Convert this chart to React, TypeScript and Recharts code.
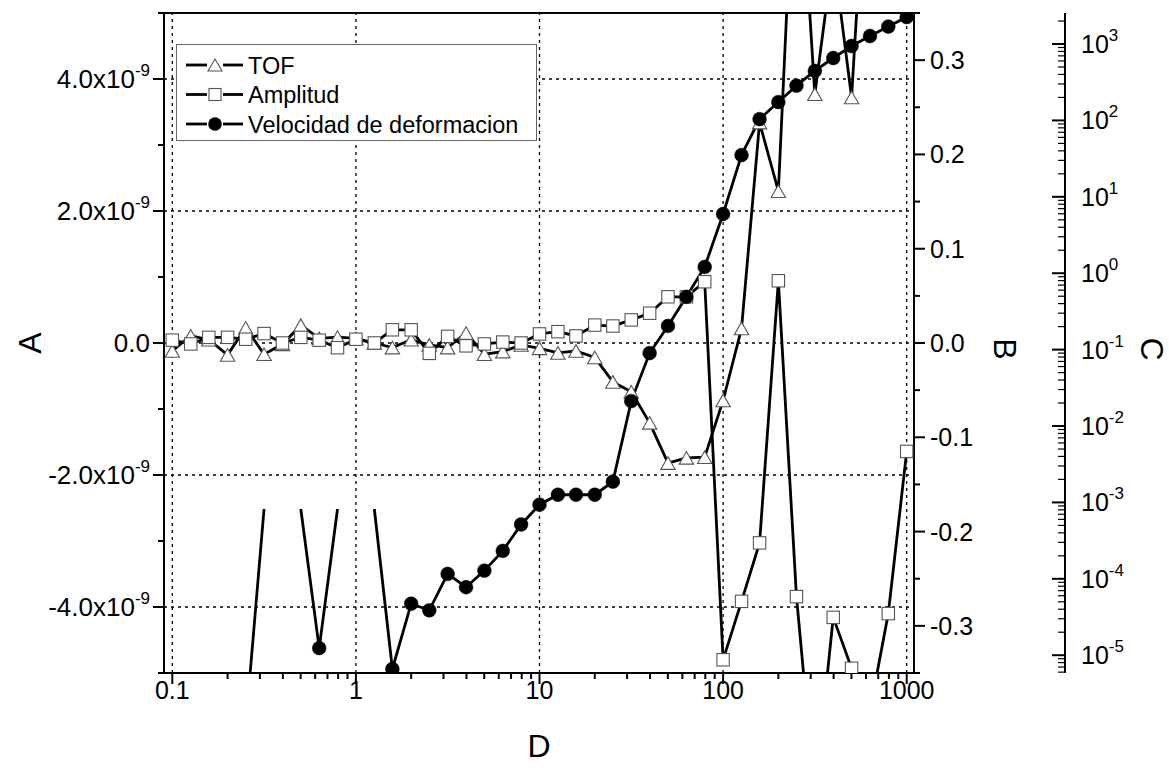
import React from 'react';
import { ComposedChart, Line, XAxis, YAxis, ReferenceLine, Legend } from 'recharts';

const FONT = '"Liberation Sans", Arial, Helvetica, sans-serif';

// ---------------- data ----------------
const dValues = [
  0.1, 0.126, 0.158, 0.2, 0.251, 0.316, 0.398, 0.501, 0.631, 0.794,
  1, 1.26, 1.58, 2, 2.51, 3.16, 3.98, 5.01, 6.31, 7.94,
  10, 12.6, 15.8, 20, 25.1, 31.6, 39.8, 50.1, 63.1, 79.4,
  100, 126, 158, 200, 251, 316, 398, 501, 631, 794, 1000,
];

const tofValues = [
  -0.12e-9, 0.11e-9, 0.05e-9, -0.18e-9, 0.23e-9, -0.17e-9, -0.02e-9, 0.27e-9, 0.07e-9, 0.09e-9,
  0.07e-9, 0.0, -0.07e-9, 0.05e-9, -0.03e-9, -0.07e-9, 0.15e-9, -0.17e-9, -0.13e-9, -0.03e-9,
  -0.08e-9, -0.15e-9, -0.12e-9, -0.22e-9, -0.59e-9, -0.74e-9, -1.21e-9, -1.82e-9, -1.74e-9, -1.73e-9,
  -0.87e-9, 0.22e-9, 3.34e-9, 2.3e-9, 8.2e-9, 3.77e-9, 5.9e-9, 3.72e-9, 8.4e-9, 8.0e-9, 9.0e-9,
];

const amplitudValues = [
  0.003, -0.001, 0.006, 0.006, 0.004, 0.01, 0.0, 0.006, 0.003, -0.005,
  0.004, 0.0, 0.014, 0.014, -0.011, 0.007, -0.003, -0.001, 0.001, 0.0,
  0.0096, 0.012, 0.0075, 0.019, 0.018, 0.0245, 0.0316, 0.049, 0.049, 0.065,
  -0.336, -0.274, -0.212, 0.066, -0.269, -0.48, -0.291, -0.345, -0.39, -0.287, -0.115,
];

const velocidadValues: (number | null)[] = [
  null, null, null, null, 1.2e-6, 8.2e-4, null, 8.2e-4, 1.24e-5, 8.2e-4,
  null, 8.2e-4, 6.6e-6, 4.72e-5, 3.87e-5, 1.16e-4, 7.76e-5, 1.28e-4, 2.32e-4, 5.14e-4,
  9.33e-4, 1.26e-3, 1.26e-3, 1.26e-3, 1.87e-3, 0.0212, 0.0902, 0.204, 0.491, 1.21,
  5.96, 35.2, 104, 174, 285, 444, 656, 942, 1273, 1694, 2255,
];

// points of the Velocidad curve that the original draws without a symbol
const velocidadNoSymbolAt = [0.316, 0.501, 0.794, 1.26];

// ---------------- axes / ticks ----------------
const xDomain = [0.0901, 1096];
const aDomain = [-5e-9, 5e-9];
const bDomain = [-0.35, 0.35];
const cDomain = [5.85e-6, 2547];

const xDecades = [0.1, 1, 10, 100, 1000];
const xMinorSteps = [2, 3, 4, 5, 6, 7, 8, 9];
const xTickLabels = ['0.1', '1', '10', '100', '1000'];

const aTicks = [-5e-9, -4e-9, -3e-9, -2e-9, -1e-9, 0, 1e-9, 2e-9, 3e-9, 4e-9, 5e-9];
const aLabelTicks = [-4e-9, -2e-9, 0, 2e-9, 4e-9];
const aTickLabels = ['-4.0x10', '-2.0x10', '0.0', '2.0x10', '4.0x10'];
const aTickExp = ['-9', '-9', '', '-9', '-9'];

const bTicks = [-0.35, -0.3, -0.25, -0.2, -0.15, -0.1, -0.05, 0, 0.05, 0.1, 0.15, 0.2, 0.25, 0.3, 0.35];
const bLabelTicks = [-0.3, -0.2, -0.1, 0, 0.1, 0.2, 0.3];
const bTickLabels = ['-0.3', '-0.2', '-0.1', '0.0', '0.1', '0.2', '0.3'];

const cDecades = [1e-6, 1e-5, 1e-4, 1e-3, 1e-2, 1e-1, 1, 10, 100, 1000];
const cLabelExps = [-5, -4, -3, -2, -1, 0, 1, 2, 3];
const cMinorSteps = [1, 2, 3, 4, 5, 6, 7, 8, 9];

const gridX = [0.1, 1, 10, 100, 1000];
const gridA = [-4e-9, -2e-9, 0, 2e-9, 4e-9];

const legendItems = [
  { name: 'TOF', symbol: 'triangle' },
  { name: 'Amplitud', symbol: 'square' },
  { name: 'Velocidad de deformacion', symbol: 'circle' },
];

// ---------------- derived ----------------
const chartData = dValues.map((d, i) => ({
  d,
  tof: tofValues[i],
  amp: amplitudValues[i],
  vel: velocidadValues[i],
}));

const xTicks = xDecades.flatMap((d, i) =>
  i === xDecades.length - 1 ? [d] : [d, ...xMinorSteps.map((m) => +(m * d).toPrecision(3))]
);
const cTicks = cDecades
  .flatMap((d) => cMinorSteps.map((m) => +(m * d).toPrecision(3)))
  .filter((v) => v >= cDomain[0] && v <= cDomain[1]);

const near = (a: number, b: number) => Math.abs(a - b) <= Math.abs(b) * 1e-6 + 1e-15;
const isDecade = (v: number) => {
  const l = Math.log10(v);
  return Math.abs(l - Math.round(l)) < 1e-6;
};

// ---------------- layout (page pixels) ----------------
const W = 1169;
const H = 776;
const PLOT_LEFT = 164;
const PLOT_RIGHT = 914;
const PLOT_TOP = 13;
const PLOT_BOTTOM = 673;
const B_AXIS_W = 151;
const C_AXIS_W = W - PLOT_RIGHT - B_AXIS_W;
const BOTTOM_AXIS_H = 30;

const TICK_FS = 25;
const A_TICK_FS = 26;
const SUP_FS = 17;
const TITLE_FS = 32;
const AXIS_STROKE = 2;

// ---------------- tick renderers ----------------
const BottomTick = (props: any) => {
  const { x, y, payload } = props;
  const v = payload.value;
  const major = isDecade(v);
  const idx = xDecades.findIndex((d) => near(v, d));
  return (
    <g>
      <line x1={x} x2={x} y1={y} y2={y + (major ? 11 : 6)} stroke="#000" strokeWidth={AXIS_STROKE} />
      {major && idx >= 0 && (
        <text x={x} y={y + 26} textAnchor="middle" fontSize={TICK_FS} fontFamily={FONT} fill="#000">
          {xTickLabels[idx]}
        </text>
      )}
    </g>
  );
};

const TopTick = (props: any) => {
  const { x, y, payload } = props;
  const major = isDecade(payload.value);
  return <line x1={x} x2={x} y1={y} y2={y + (major ? 10 : 6)} stroke="#000" strokeWidth={AXIS_STROKE} />;
};

const ATick = (props: any) => {
  const { x, y, payload } = props;
  const v = payload.value;
  const idx = aLabelTicks.findIndex((t) => near(v, t));
  const major = idx >= 0;
  return (
    <g>
      <line x1={x - (major ? 11 : 6)} x2={x} y1={y} y2={y} stroke="#000" strokeWidth={AXIS_STROKE} />
      {major && (
        <text x={x - 14} y={y + 9} textAnchor="end" fontSize={A_TICK_FS} fontFamily={FONT} fill="#000">
          {aTickLabels[idx]}
          {aTickExp[idx] && (
            <tspan dy={-12} fontSize={SUP_FS}>
              {aTickExp[idx]}
            </tspan>
          )}
        </text>
      )}
    </g>
  );
};

const BTick = (props: any) => {
  const { x, y, payload } = props;
  const v = payload.value;
  const idx = bLabelTicks.findIndex((t) => Math.abs(v - t) < 1e-9);
  const major = idx >= 0;
  return (
    <g>
      <line x1={x} x2={x + (major ? 11 : 6)} y1={y} y2={y} stroke="#000" strokeWidth={AXIS_STROKE} />
      {major && (
        <text x={x + 16} y={y + 9} textAnchor="start" fontSize={TICK_FS} fontFamily={FONT} fill="#000">
          {bTickLabels[idx]}
        </text>
      )}
    </g>
  );
};

const CTick = (props: any) => {
  const { x, y, payload } = props;
  const v = payload.value;
  const major = isDecade(v);
  const exp = Math.round(Math.log10(v));
  const labelled = major && cLabelExps.includes(exp);
  return (
    <g>
      <line x1={x - (major ? 13 : 7)} x2={x} y1={y} y2={y} stroke="#000" strokeWidth={major ? AXIS_STROKE : 1.2} />
      {labelled && (
        <text x={x + 16} y={y + 9} textAnchor="start" fontSize={TICK_FS} fontFamily={FONT} fill="#000">
          10
          <tspan dy={-12} fontSize={SUP_FS}>
            {String(exp)}
          </tspan>
        </text>
      )}
    </g>
  );
};

// ---------------- markers ----------------
const MARK_STROKE = '#555';

const TriangleDot = (props: any) => {
  const { cx, cy, value } = props;
  if (cx == null || cy == null || value == null || Number.isNaN(cy)) return <g key={props.key} />;
  const h = 6.3;
  const w = 7.2;
  return (
    <path
      key={props.key}
      d={`M${cx},${cy - h} L${cx + w},${cy + h} L${cx - w},${cy + h} Z`}
      fill="#fff"
      stroke={MARK_STROKE}
      strokeWidth={1.1}
    />
  );
};

const SquareDot = (props: any) => {
  const { cx, cy, value } = props;
  if (cx == null || cy == null || value == null || Number.isNaN(cy)) return <g key={props.key} />;
  const s = 6.2;
  return (
    <rect key={props.key} x={cx - s} y={cy - s} width={2 * s} height={2 * s} fill="#fff" stroke={MARK_STROKE} strokeWidth={1.1} />
  );
};

const CircleDot = (props: any) => {
  const { cx, cy, value, payload } = props;
  if (cx == null || cy == null || value == null || Number.isNaN(cy)) return <g key={props.key} />;
  if (payload && velocidadNoSymbolAt.some((d) => near(payload.d, d))) return <g key={props.key} />;
  return <circle key={props.key} cx={cx} cy={cy} r={6.9} fill="#000" stroke="#000" strokeWidth={0.5} />;
};

// ---------------- legend ----------------
const LegendSymbol = ({ kind, cx, cy }: { kind: string; cx: number; cy: number }) => {
  if (kind === 'triangle')
    return <path d={`M${cx},${cy - 6} L${cx + 7},${cy + 6} L${cx - 7},${cy + 6} Z`} fill="#fff" stroke={MARK_STROKE} strokeWidth={1.1} />;
  if (kind === 'square')
    return <rect x={cx - 6} y={cy - 6} width={12} height={12} fill="#fff" stroke={MARK_STROKE} strokeWidth={1.1} />;
  return <circle cx={cx} cy={cy} r={6.8} fill="#000" />;
};

const LEG_W = 361;
const LEG_H = 97;
const LEG_FS = 23.5;
const renderLegend = () => (
  <svg width={LEG_W} height={LEG_H} style={{ display: 'block' }}>
    <rect x={0.5} y={0.5} width={LEG_W - 1} height={LEG_H - 1} fill="#fff" stroke="#666" strokeWidth={1} />
    {legendItems.map((it, i) => {
      const cy = 21 + i * 29.5;
      return (
        <g key={it.name}>
          <line x1={10} x2={31} y1={cy} y2={cy} stroke="#000" strokeWidth={2.8} />
          <line x1={47} x2={67} y1={cy} y2={cy} stroke="#000" strokeWidth={2.8} />
          <LegendSymbol kind={it.symbol} cx={39} cy={cy} />
          <text x={72} y={cy + 8.5} fontSize={LEG_FS} fontFamily={FONT} fill="#000">
            {it.name}
          </text>
        </g>
      );
    })}
  </svg>
);

// ---------------- titles ----------------
const titleStyle = { fontSize: TITLE_FS, fontFamily: FONT, fill: '#000' } as const;
const midY = (PLOT_TOP + PLOT_BOTTOM) / 2;
const titleA = () => (
  <text x={30} y={midY} transform={`rotate(-90, 30, ${midY})`} textAnchor="middle" dominantBaseline="central" style={titleStyle}>
    A
  </text>
);
const titleB = () => (
  <text x={1005} y={midY + 6} transform={`rotate(90, 1005, ${midY + 6})`} textAnchor="middle" dominantBaseline="central" style={titleStyle}>
    B
  </text>
);
const titleC = () => (
  <text x={1152} y={midY + 6} transform={`rotate(90, 1152, ${midY + 6})`} textAnchor="middle" dominantBaseline="central" style={titleStyle}>
    C
  </text>
);
const titleD = () => (
  <text x={(PLOT_LEFT + PLOT_RIGHT) / 2} y={757} textAnchor="middle" style={titleStyle}>
    D
  </text>
);

const LINE_W = 2.8;

export default function App() {
  return (
    <div style={{ position: 'absolute', left: 0, top: 0, width: W, height: H, background: '#fff' }}>
      <ComposedChart
        width={W}
        height={H}
        data={chartData}
        margin={{ top: PLOT_TOP - 1, right: 0, bottom: H - PLOT_BOTTOM - BOTTOM_AXIS_H, left: 0 }}
      >
        <XAxis
          xAxisId="x"
          dataKey="d"
          type="number"
          scale="log"
          domain={xDomain}
          allowDataOverflow
          ticks={xTicks}
          interval={0}
          tick={BottomTick}
          tickLine={false}
          tickSize={0}
          tickMargin={0}
          height={BOTTOM_AXIS_H}
          axisLine={{ stroke: '#000', strokeWidth: AXIS_STROKE }}
          label={titleD}
        />
        <XAxis
          xAxisId="top"
          orientation="top"
          type="number"
          scale="log"
          domain={xDomain}
          allowDataOverflow
          ticks={xTicks}
          interval={0}
          tick={TopTick}
          tickLine={false}
          tickSize={0}
          tickMargin={0}
          height={1}
          axisLine={{ stroke: '#000', strokeWidth: AXIS_STROKE }}
        />
        <YAxis
          yAxisId="A"
          type="number"
          domain={aDomain}
          allowDataOverflow
          ticks={aTicks}
          interval={0}
          tick={ATick}
          tickLine={false}
          tickSize={0}
          tickMargin={0}
          width={PLOT_LEFT}
          axisLine={{ stroke: '#000', strokeWidth: AXIS_STROKE }}
          label={titleA}
        />
        <YAxis
          yAxisId="B"
          orientation="right"
          type="number"
          domain={bDomain}
          allowDataOverflow
          ticks={bTicks}
          interval={0}
          tick={BTick}
          tickLine={false}
          tickSize={0}
          tickMargin={0}
          width={B_AXIS_W}
          axisLine={{ stroke: '#000', strokeWidth: AXIS_STROKE }}
          label={titleB}
        />
        <YAxis
          yAxisId="C"
          orientation="right"
          type="number"
          scale="log"
          domain={cDomain}
          allowDataOverflow
          ticks={cTicks}
          interval={0}
          tick={CTick}
          tickLine={false}
          tickSize={0}
          tickMargin={0}
          width={C_AXIS_W}
          axisLine={{ stroke: '#000', strokeWidth: AXIS_STROKE }}
          label={titleC}
        />

        {gridX.map((g) => (
          <ReferenceLine key={`gx${g}`} xAxisId="x" yAxisId="A" x={g} stroke="#000" strokeWidth={1.3} strokeDasharray="3 4" />
        ))}
        {gridA.map((g) => (
          <ReferenceLine key={`ga${g}`} xAxisId="x" yAxisId="A" y={g} stroke="#000" strokeWidth={1.3} strokeDasharray="3 4" />
        ))}

        <Line
          xAxisId="x"
          yAxisId="A"
          dataKey="tof"
          name="TOF"
          stroke="#000"
          strokeWidth={LINE_W}
          dot={(p: any) => <TriangleDot {...p} key={p.key ?? p.index} />}
          activeDot={false}
          isAnimationActive={false}
          type="linear"
        />
        <Line
          xAxisId="x"
          yAxisId="B"
          dataKey="amp"
          name="Amplitud"
          stroke="#000"
          strokeWidth={LINE_W}
          dot={(p: any) => <SquareDot {...p} key={p.key ?? p.index} />}
          activeDot={false}
          isAnimationActive={false}
          type="linear"
        />
        <Line
          xAxisId="x"
          yAxisId="C"
          dataKey="vel"
          name="Velocidad de deformacion"
          stroke="#000"
          strokeWidth={LINE_W}
          dot={(p: any) => <CircleDot {...p} key={p.key ?? p.index} />}
          activeDot={false}
          isAnimationActive={false}
          type="linear"
        />
        <Legend
          content={renderLegend}
          layout="vertical"
          align="center"
          verticalAlign="middle"
          wrapperStyle={{ left: 176, top: 44, width: LEG_W, height: LEG_H }}
        />
      </ComposedChart>
    </div>
  );
}
